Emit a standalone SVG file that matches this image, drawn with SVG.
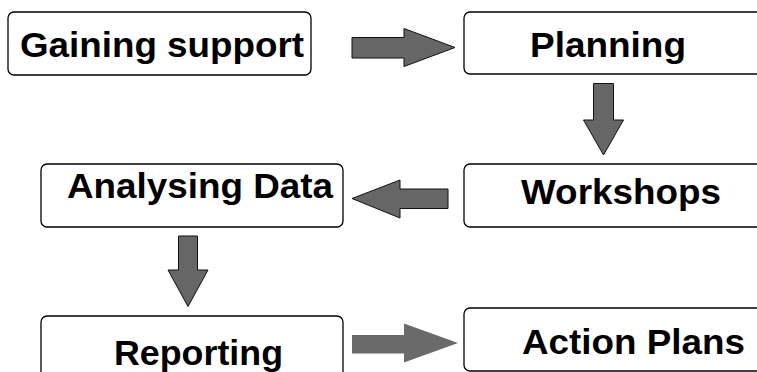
<svg xmlns="http://www.w3.org/2000/svg" width="757" height="372" viewBox="0 0 757 372">
  <style>
    .box { fill: #ffffff; stroke: #000000; stroke-width: 1.3; }
    .lbl { font-family: "Liberation Sans", Arial, sans-serif; font-weight: bold; font-size: 35.5px; fill: #000000; }
    .arw { fill: #666666; stroke: #111111; stroke-width: 1; stroke-linejoin: miter; }
    .arw-soft { fill: #6a6a6a; stroke: none; }
  </style>
  <rect width="757" height="372" fill="#ffffff"/>

  <g id="connectors">
    <!-- Gaining support -> Planning -->
    <path class="arw" d="M352,37.5 H404 V28.5 L455,47.5 L404,66.5 V58 H352 Z"/>
    <!-- Planning -> Workshops -->
    <path class="arw" d="M593.5,83.5 H613.5 V120 H623.5 L603.5,155 L583.5,120 H593.5 Z"/>
    <!-- Workshops -> Analysing Data -->
    <path class="arw" d="M448,189 H400 V180 L352,198.5 L400,218 V208.5 H448 Z"/>
    <!-- Analysing Data -> Reporting -->
    <path class="arw" d="M178.5,236 H197.5 V270 H208 L188,306.5 L168,270 H178.5 Z"/>
    <!-- Reporting -> Action Plans -->
    <path class="arw-soft" d="M352,335 H404 V323.5 L458,343 L404,362.5 V353.5 H352 Z"/>
  </g>

  <g id="gaining-support">
    <rect class="box" x="8" y="12" width="303" height="63" rx="6"/>
    <text class="lbl" x="20" y="57" textLength="284" lengthAdjust="spacingAndGlyphs">Gaining support</text>
  </g>

  <g id="planning">
    <rect class="box" x="464" y="12" width="300" height="62" rx="6"/>
    <text class="lbl" x="530" y="57" textLength="156" lengthAdjust="spacingAndGlyphs">Planning</text>
  </g>

  <g id="workshops">
    <rect class="box" x="464" y="164" width="300" height="63" rx="6"/>
    <text class="lbl" x="521" y="204" textLength="200" lengthAdjust="spacingAndGlyphs">Workshops</text>
  </g>

  <g id="analysing-data">
    <rect class="box" x="41" y="164" width="302" height="63" rx="6"/>
    <text class="lbl" x="67" y="198" textLength="266" lengthAdjust="spacingAndGlyphs">Analysing Data</text>
  </g>

  <g id="reporting">
    <rect class="box" x="41" y="316" width="302" height="64" rx="6"/>
    <text class="lbl" x="114" y="365" textLength="169" lengthAdjust="spacingAndGlyphs">Reporting</text>
  </g>

  <g id="action-plans">
    <rect class="box" x="464" y="308" width="300" height="63" rx="6"/>
    <text class="lbl" x="522" y="354" textLength="223" lengthAdjust="spacingAndGlyphs">Action Plans</text>
  </g>
</svg>
